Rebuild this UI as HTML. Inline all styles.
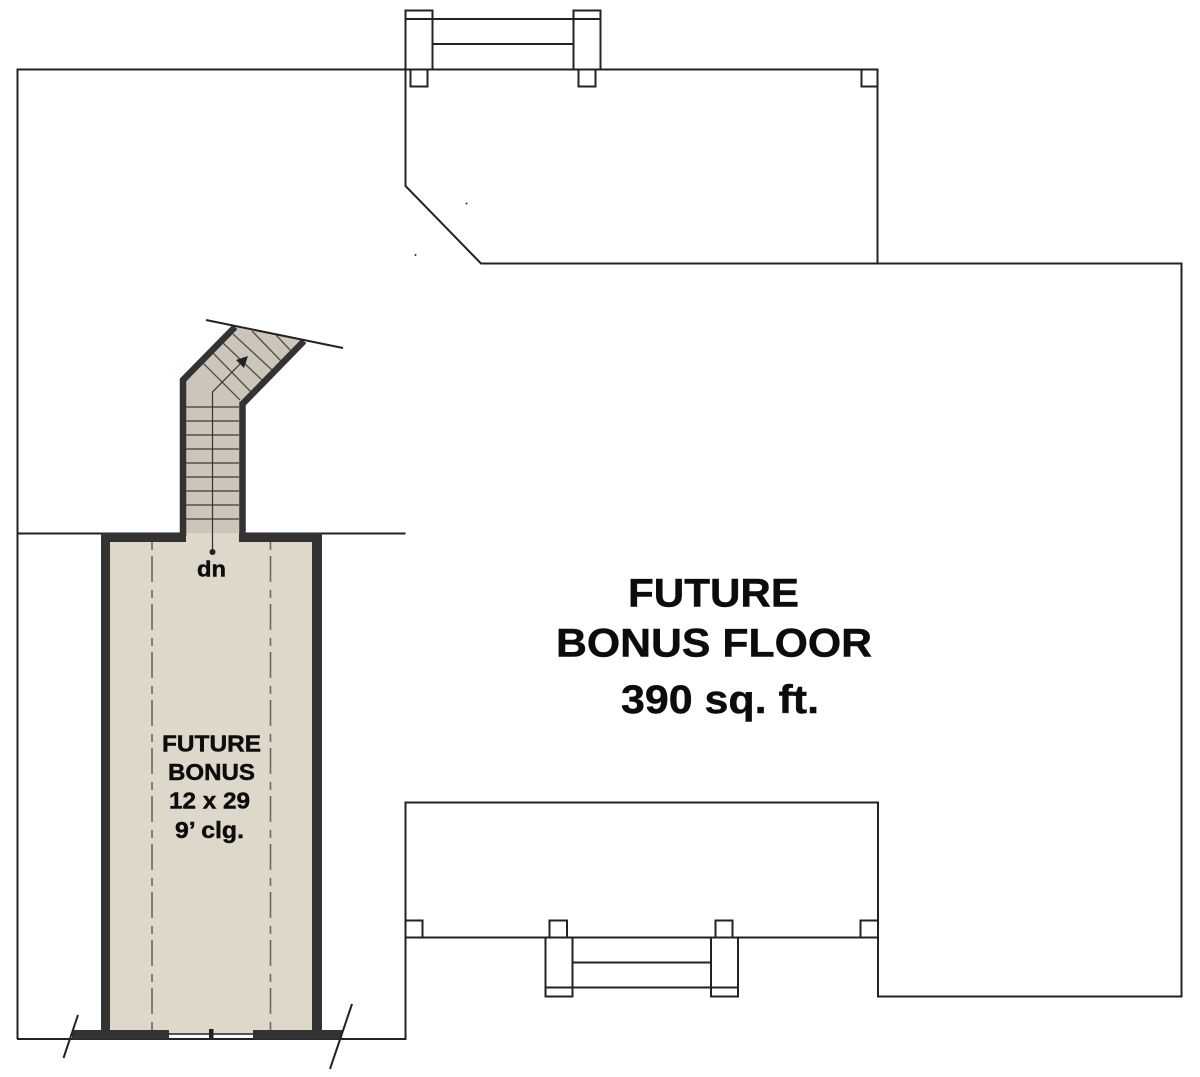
<!DOCTYPE html>
<html><head><meta charset="utf-8"><style>
html,body{margin:0;padding:0;background:#fff}
svg{display:block}
text{font-family:"Liberation Sans",Arial,sans-serif;font-weight:700;fill:#0c0c0c;stroke:#0c0c0c;stroke-width:.45}
</style></head><body>
<svg width="1200" height="1077" viewBox="0 0 1200 1077" xmlns="http://www.w3.org/2000/svg">
<rect width="1200" height="1077" fill="#fff"/>
<g fill="none" stroke="#222" stroke-width="2">
<path d="M17.5 533V69.5H877.5V263.5"/>
<path d="M405.5 69.5V186L481 263.5H1181.5V996.5H878V802.5H405.5V1039H17"/>
<path d="M17 533.5H405.5"/>
<path d="M17.5 533V1039"/>
<path d="M405.5 937.5H878"/>
<!-- top porch -->
<path d="M405.5 69V10.5H432.5V69M405.5 19H432.5M432.5 19H573.5M432.5 44H573.5M573.5 69V10.5H600.5V69M573.5 19H600.5"/>
<path d="M410.5 69.5V86.5H427.5V69.5M578.5 69.5V86.5H595.5V69.5M861.5 69.5V86.5H877.5"/>
<!-- bottom porch -->
<path d="M545.5 937.5V996.5H572.5V937.5M545.5 987.5H572.5M572.5 987.5H711M572.5 962.5H711M711 937.5V996.5H738V937.5M711 987.5H738"/>
<path d="M405.5 920.5H422.5V937.5M549.5 937.5V920.5H567V937.5M715.5 937.5V920.5H732.5V937.5M877.5 920.5H860.5V937.5"/>
</g>
<!-- room + stair fills -->
<rect x="105" y="533" width="212" height="501" fill="#ddd8c9"/>
<path d="M183 533V380L235 326 304 341 242.500 404V533Z" fill="#cbc6b9"/>
<!-- dashed beams -->
<g stroke="#6a675f" stroke-width="1.6" fill="none" stroke-dasharray="26 8 8 6" stroke-dashoffset="34">
<path d="M152 542V1030"/><path d="M270.500 542V1030"/>
</g>
<!-- treads -->
<g stroke="#55524a" stroke-width="1.4" fill="none">
<path d="M186 407H239M186 421H239M186 435H239M186 449H239M186 463H239M186 477H239M186 491H239M186 505H239M186 519H239"/>
<path d="M203 363L240 400M213 353L252 393M223 343L262 380M233 334L272 370M252 331L281 361M276 335L291 351"/>
</g>
<path d="M212.500 552V392L242 362" fill="none" stroke="#333" stroke-width="1.2"/>
<path d="M248 356L244 368 236 360Z" fill="#222"/>
<circle cx="212.500" cy="552" r="3" fill="#222"/>
<!-- walls -->
<g fill="#333">
<rect x="101" y="533" width="85" height="9"/>
<rect x="239" y="533" width="83" height="9"/>
<rect x="101" y="533" width="9" height="506.500"/>
<rect x="312" y="533" width="10" height="506.500"/>
<rect x="72" y="1030" width="97" height="9.500"/>
<rect x="253" y="1030" width="89" height="9.500"/>
</g>
<path d="M183 536V380L235 327" fill="none" stroke="#333" stroke-width="6.500"/>
<path d="M242.500 536V404L304 341" fill="none" stroke="#333" stroke-width="6.500"/>
<path d="M169 1034H253" stroke="#222" stroke-width="1.600"/>
<rect x="209" y="1029" width="4.500" height="10" fill="#222"/>
<g stroke="#222" stroke-width="2" fill="none">
<path d="M206 320L343 348"/>
<path d="M63.500 1058L78 1015"/>
<path d="M330 1069L352 1004"/>
</g>
<circle cx="466.500" cy="203.500" r="1" fill="#333"/>
<circle cx="415.500" cy="255" r="1" fill="#333"/>
<!-- labels -->
<text x="628" y="606.500" font-size="40" textLength="171" lengthAdjust="spacingAndGlyphs">FUTURE</text>
<text x="556" y="656.500" font-size="40" textLength="316" lengthAdjust="spacingAndGlyphs">BONUS FLOOR</text>
<text x="621" y="713" font-size="40" textLength="198" lengthAdjust="spacingAndGlyphs">390 sq. ft.</text>
<text x="162" y="751.500" font-size="23.500" textLength="99" lengthAdjust="spacingAndGlyphs">FUTURE</text>
<text x="168" y="780" font-size="23.500" textLength="87" lengthAdjust="spacingAndGlyphs">BONUS</text>
<text x="169" y="808.500" font-size="23.500" textLength="81" lengthAdjust="spacingAndGlyphs">12 x 29</text>
<text x="175" y="838" font-size="23.500" textLength="69" lengthAdjust="spacingAndGlyphs">9’ clg.</text>
<text x="197" y="576.500" font-size="22" textLength="29" lengthAdjust="spacingAndGlyphs">dn</text>
</svg>
</body></html>
